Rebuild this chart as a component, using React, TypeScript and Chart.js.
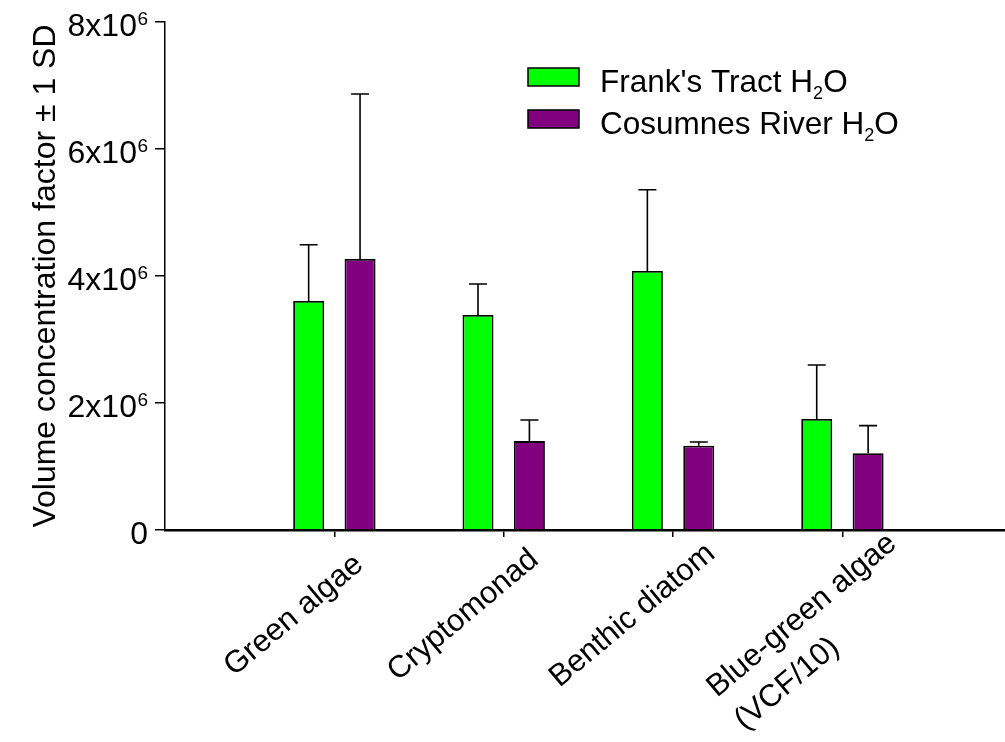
import { useEffect, useRef } from 'react';
import { Chart, registerables } from 'chart.js';

Chart.register(...registerables);

// Algal groups along the x axis (linear positions 1..4)
const categories: string[][] = [
  ['Green algae'],
  ['Cryptomonad'],
  ['Benthic diatom'],
  ['Blue-green algae', '(VCF/10)'],
];
const categoryPos = [1, 2, 3, 4];

// Volume concentration factor, mean and 1 SD
const franksMean = [3.606e6, 3.386e6, 4.079e6, 1.748e6];
const franksSD = [0.887e6, 0.488e6, 1.28e6, 0.85e6];
const cosumnesMean = [4.268e6, 1.40e6, 1.328e6, 1.208e6];
const cosumnesSD = [2.598e6, 0.332e6, 0.058e6, 0.435e6];

const yTicks = [0, 2e6, 4e6, 6e6, 8e6];
const yExponent = '6';

const seriesNames = ["Frank's Tract H", 'Cosumnes River H'];
const seriesColors = ['#00ff00', '#800080'];

const FONT = '"Liberation Sans", Arial, Helvetica, sans-serif';

const errorBars = {
  id: 'errorBars',
  afterDatasetsDraw(chart: any) {
    const { ctx } = chart;
    const y = chart.scales.y;
    const sds = [franksSD, cosumnesSD];
    const means = [franksMean, cosumnesMean];
    ctx.save();
    ctx.strokeStyle = '#000';
    ctx.lineWidth = 1.6;
    chart.data.datasets.forEach((_: any, di: number) => {
      const meta = chart.getDatasetMeta(di);
      meta.data.forEach((bar: any, i: number) => {
        const top = y.getPixelForValue(means[di][i]);
        const cap = y.getPixelForValue(means[di][i] + sds[di][i]);
        ctx.beginPath();
        ctx.moveTo(bar.x, top);
        ctx.lineTo(bar.x, cap);
        ctx.moveTo(bar.x - 9, cap);
        ctx.lineTo(bar.x + 9, cap);
        ctx.stroke();
      });
    });
    ctx.restore();
  },
};

const textLayer = {
  id: 'textLayer',
  afterDraw(chart: any) {
    const { ctx } = chart;
    const y = chart.scales.y;
    const x = chart.scales.x;
    ctx.save();
    ctx.fillStyle = '#000';
    ctx.textBaseline = 'alphabetic';

    // y tick labels with superscript exponent
    yTicks.forEach((v) => {
      const py = y.getPixelForValue(v);
      const right = 148;
      if (v === 0) {
        ctx.font = `32px ${FONT}`;
        ctx.textAlign = 'right';
        ctx.fillText('0', right, py + 14);
        return;
      }
      ctx.font = `19px ${FONT}`;
      ctx.textAlign = 'right';
      ctx.fillText(yExponent, right, py + 3);
      const supW = ctx.measureText(yExponent).width;
      ctx.font = `32px ${FONT}`;
      ctx.fillText(`${v / 1e6}x10`, right - supW - 0.5, py + 14);
    });

    // y axis title
    ctx.save();
    ctx.translate(55, (chart.chartArea.top + chart.chartArea.bottom) / 2);
    ctx.rotate(-Math.PI / 2);
    ctx.font = `32px ${FONT}`;
    ctx.textAlign = 'center';
    ctx.fillText('Volume concentration factor \u00b1 1 SD', 0, 0);
    ctx.restore();

    // rotated category labels
    ctx.font = `31px ${FONT}`;
    ctx.textAlign = 'left';
    const angle = (-40 * Math.PI) / 180;
    categories.forEach((lines, i) => {
      const px = x.getPixelForValue(categoryPos[i]);
      const w = ctx.measureText(lines[0]).width;
      ctx.save();
      ctx.translate(px - 35, 622);
      ctx.rotate(angle);
      lines.forEach((line, k) => {
        ctx.fillText(line, -w / 2, k * 43);
      });
      ctx.restore();
    });

    // legend
    seriesNames.forEach((name, i) => {
      const top = 68 + i * 42;
      ctx.fillStyle = seriesColors[i];
      ctx.fillRect(528, top, 51, 18);
      ctx.strokeStyle = '#000';
      ctx.lineWidth = 1.5;
      ctx.strokeRect(528, top, 51, 18);
      ctx.fillStyle = '#000';
      const base = top + 24;
      ctx.textAlign = 'left';
      ctx.font = `31.5px ${FONT}`;
      ctx.fillText(name, 600, base);
      let cx = 600 + ctx.measureText(name).width;
      ctx.font = `18px ${FONT}`;
      ctx.fillText('2', cx, base + 7);
      cx += ctx.measureText('2').width;
      ctx.font = `31.5px ${FONT}`;
      ctx.fillText('O', cx, base);
    });
    ctx.restore();
  },
};

export default function App() {
  const ref = useRef<HTMLCanvasElement>(null);

  useEffect(() => {
    if (!ref.current) return;
    const chart = new Chart(ref.current, {
      type: 'bar',
      data: {
        datasets: [
          {
            label: "Frank's Tract H2O",
            data: categoryPos.map((p, i) => ({ x: p, y: franksMean[i] })),
            backgroundColor: seriesColors[0],
            borderColor: '#000',
            borderWidth: 1.8,
          },
          {
            label: 'Cosumnes River H2O',
            data: categoryPos.map((p, i) => ({ x: p, y: cosumnesMean[i] })),
            backgroundColor: seriesColors[1],
            borderColor: '#000',
            borderWidth: 1.8,
          },
        ],
      },
      options: {
        responsive: false,
        animation: false,
        devicePixelRatio: 1,
        categoryPercentage: 0.607,
        barPercentage: 0.603,
        layout: { padding: { top: 22, left: 0, right: 0, bottom: 0 } },
        plugins: { legend: { display: false }, tooltip: { enabled: false } },
        scales: {
          x: {
            type: 'linear',
            min: 0,
            max: 4.96,
            offset: false,
            afterBuildTicks: (s: any) => {
              s.ticks = categoryPos.map((v) => ({ value: v }));
            },
            afterFit: (s: any) => {
              s.height = 212;
            },
            ticks: { display: false },
            grid: {
              offset: false,
              drawOnChartArea: false,
              drawTicks: true,
              tickLength: 7,
              color: '#000',
              lineWidth: 1.5,
            },
            border: { display: true, color: '#000', width: 2.5 },
          },
          y: {
            min: 0,
            max: 8e6,
            afterBuildTicks: (s: any) => {
              s.ticks = yTicks.map((v) => ({ value: v }));
            },
            afterFit: (s: any) => {
              s.width = 165;
            },
            ticks: { display: false },
            grid: {
              drawOnChartArea: false,
              drawTicks: true,
              tickLength: 10,
              color: '#000',
              lineWidth: 1.5,
            },
            border: { display: true, color: '#000', width: 1.5 },
          },
        },
      } as any,
      plugins: [errorBars, textLayer],
    });
    return () => chart.destroy();
  }, []);

  return (
    <div style={{ position: 'absolute', left: 0, top: 0, width: 1005, height: 742, background: '#fff' }}>
      <canvas ref={ref} width={1005} height={742} />
    </div>
  );
}
